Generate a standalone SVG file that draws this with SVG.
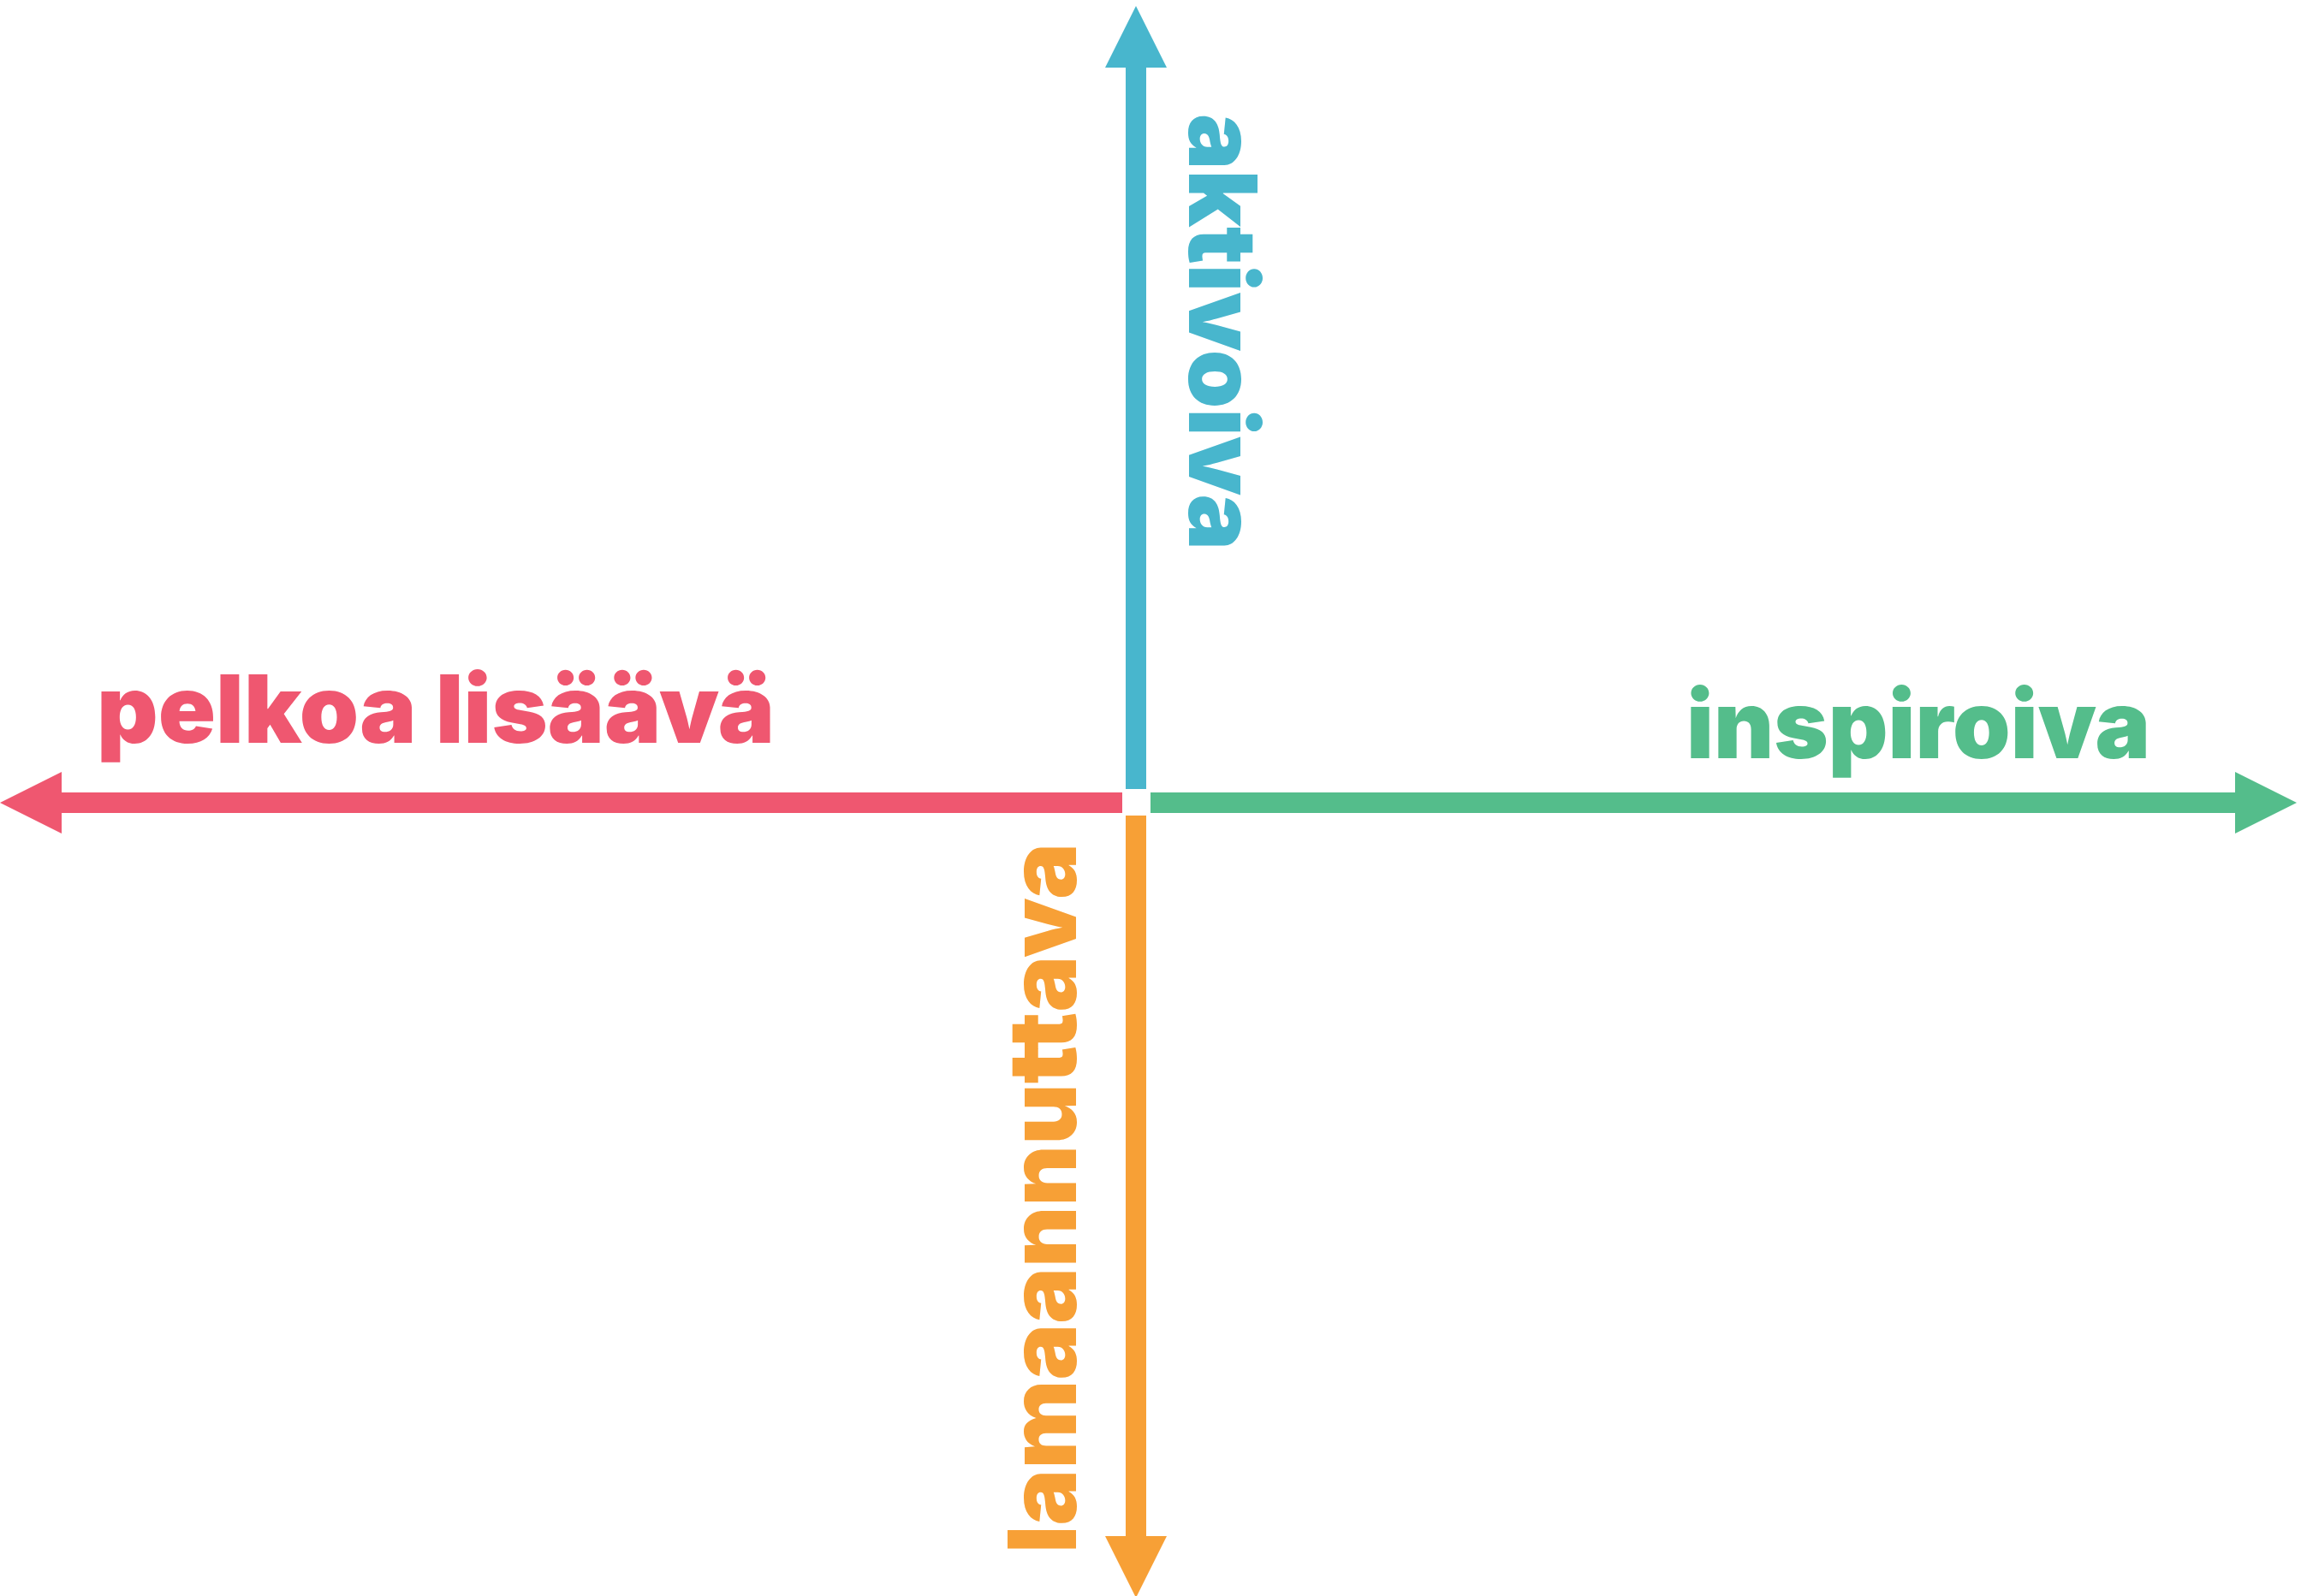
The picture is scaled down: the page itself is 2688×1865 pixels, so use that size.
<svg xmlns="http://www.w3.org/2000/svg" width="2688" height="1865" viewBox="0 0 2688 1865">
<style>
.lbl{font-family:Inter,"Noto Sans","DejaVu Sans",sans-serif;font-weight:900;font-size:110px}
.ax{stroke-width:24;fill:none;stroke-linecap:butt}
</style>
<defs>
<marker id="hb" markerUnits="userSpaceOnUse" markerWidth="72" markerHeight="72" viewBox="0 -36 72 72" refX="0" refY="0" orient="auto"><path d="M0,-36 L72,0 L0,36 Z" fill="#48B6CD"/></marker>
<marker id="hr" markerUnits="userSpaceOnUse" markerWidth="72" markerHeight="72" viewBox="0 -36 72 72" refX="0" refY="0" orient="auto"><path d="M0,-36 L72,0 L0,36 Z" fill="#EF5770"/></marker>
<marker id="hg" markerUnits="userSpaceOnUse" markerWidth="72" markerHeight="72" viewBox="0 -36 72 72" refX="0" refY="0" orient="auto"><path d="M0,-36 L72,0 L0,36 Z" fill="#54BD8B"/></marker>
<marker id="ho" markerUnits="userSpaceOnUse" markerWidth="72" markerHeight="72" viewBox="0 -36 72 72" refX="0" refY="0" orient="auto"><path d="M0,-36 L72,0 L0,36 Z" fill="#F7A036"/></marker>
</defs>
<rect width="2688" height="1865" fill="#FFFFFF"/>
<g id="connectors">
<line class="ax" x1="1327" y1="922" x2="1327" y2="79" stroke="#48B6CD" marker-end="url(#hb)"/>
<line class="ax" x1="1311" y1="938" x2="72" y2="938" stroke="#EF5770" marker-end="url(#hr)"/>
<line class="ax" x1="1344" y1="938" x2="2611" y2="938" stroke="#54BD8B" marker-end="url(#hg)"/>
<line class="ax" x1="1327" y1="953" x2="1327" y2="1795" stroke="#F7A036" marker-end="url(#ho)"/>
</g>
<g id="aktivoiva">
<text class="lbl" fill="#48B6CD" transform="translate(1389,133) rotate(90)" x="0" y="0" textLength="510" lengthAdjust="spacingAndGlyphs">aktivoiva</text>
</g>
<g id="pelkoa-lisaava">
<text class="lbl" fill="#EF5770" x="113" y="868" textLength="792" lengthAdjust="spacingAndGlyphs">pelkoa lisäävä</text>
</g>
<g id="inspiroiva">
<text class="lbl" fill="#54BD8B" x="1970" y="886" textLength="542" lengthAdjust="spacingAndGlyphs">inspiroiva</text>
</g>
<g id="lamaannuttava">
<text class="lbl" fill="#F7A036" transform="translate(1257,1815) rotate(-90)" x="0" y="0" textLength="830" lengthAdjust="spacingAndGlyphs">lamaannuttava</text>
</g>
</svg>
